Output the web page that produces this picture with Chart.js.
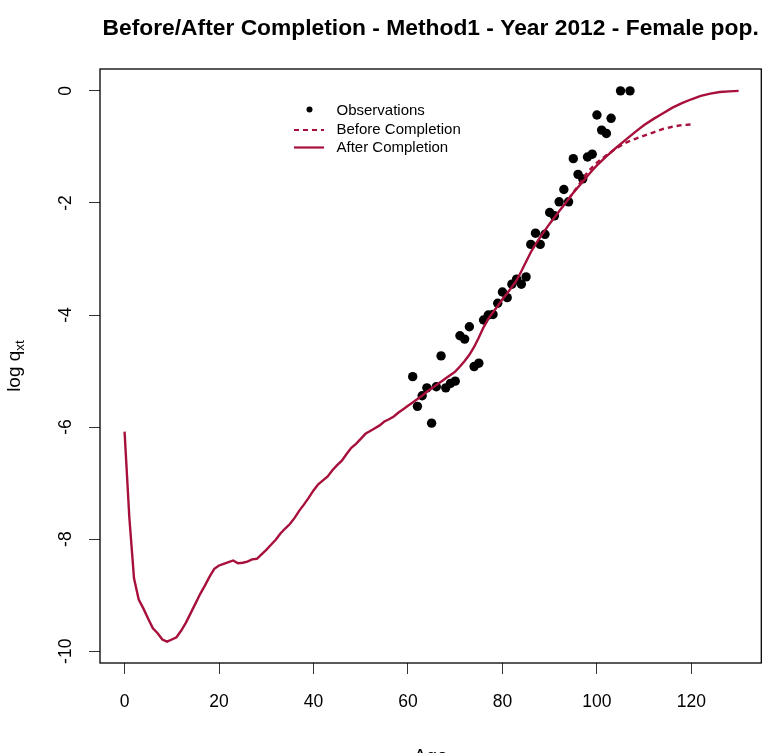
<!DOCTYPE html>
<html>
<head>
<meta charset="utf-8">
<script src="https://cdn.jsdelivr.net/npm/chart.js@4.4.1/dist/chart.umd.min.js"></script>
<style>html,body{margin:0;padding:0;background:#fff}canvas{display:block}</style>
</head>
<body>
<canvas id="myChart" width="766" height="753"></canvas>
<script>
// observed log death rates (female, 2012)
var obsAge = [61,62,63,64,65,66,67,68,69,70,71,72,73,74,75,76,77,78,79,80,81,82,83,84,85,86,87,88,89,90,91,92,93,94,95,96,97,98,99,100,101,102,103,105,107];
var obsVal = [-5.10,-5.63,-5.44,-5.30,-5.93,-5.28,-4.73,-5.30,-5.22,-5.18,-4.37,-4.43,-4.21,-4.92,-4.86,-4.09,-4.00,-3.99,-3.79,-3.59,-3.69,-3.45,-3.36,-3.45,-3.32,-2.74,-2.54,-2.74,-2.56,-2.17,-2.23,-1.98,-1.76,-1.98,-1.21,-1.49,-1.57,-1.18,-1.13,-0.43,-0.70,-0.76,-0.49,0,0];

// fitted curve after completion
var afterAge = [0,1,2,3,4,5,6,7,8,9,10,11,12,13,14,15,16,17,18,19,20,21,22,23,24,25,26,27,28,29,30,31,32,33,34,35,36,37,38,39,40,41,42,43,44,45,46,47,48,49,50,51,52,53,54,55,56,57,58,59,60,61,62,63,64,65,66,67,68,69,70,71,72,73,74,75,76,77,78,79,80,81,82,83,84,85,86,87,88,89,90,91,92,93,94,95,96,97,98,99,100,102,104,106,108,110,112,114,116,118,120,122,124,126,128,130];
var afterVal = [-6.08,-7.60,-8.70,-9.08,-9.24,-9.42,-9.59,-9.68,-9.79,-9.83,-9.79,-9.75,-9.63,-9.49,-9.32,-9.15,-8.98,-8.83,-8.67,-8.53,-8.47,-8.44,-8.41,-8.38,-8.43,-8.42,-8.40,-8.36,-8.35,-8.27,-8.19,-8.10,-8.01,-7.90,-7.81,-7.73,-7.62,-7.49,-7.38,-7.26,-7.13,-7.02,-6.95,-6.88,-6.77,-6.68,-6.60,-6.48,-6.37,-6.30,-6.21,-6.12,-6.07,-6.02,-5.97,-5.90,-5.86,-5.81,-5.74,-5.68,-5.62,-5.56,-5.50,-5.44,-5.37,-5.31,-5.25,-5.19,-5.13,-5.07,-5.01,-4.92,-4.82,-4.71,-4.57,-4.40,-4.22,-4.07,-3.95,-3.84,-3.72,-3.61,-3.50,-3.38,-3.22,-3.05,-2.88,-2.74,-2.61,-2.49,-2.37,-2.26,-2.15,-2.04,-1.93,-1.82,-1.72,-1.62,-1.52,-1.42,-1.33,-1.17,-1.02,-0.88,-0.74,-0.61,-0.50,-0.40,-0.30,-0.22,-0.15,-0.09,-0.05,-0.02,-0.01,0];

// curve before completion (only where it differs)
var beforeAge = [94,96,98,100,102,104,106,108,110,112,114,116,118,120];
var beforeVal = [-1.93,-1.70,-1.45,-1.28,-1.15,-1.03,-0.93,-0.86,-0.80,-0.74,-0.68,-0.64,-0.61,-0.60];

var xTicks = [0,20,40,60,80,100,120];
var yTicks = [-10,-8,-6,-4,-2,0];

var red = "#a8103c";
var font = "Liberation Sans, Arial, sans-serif";

function pts(xs, ys){
  var out = [];
  for (var i = 0; i < xs.length; i++) out.push({x: xs[i], y: ys[i]});
  return out;
}
function setTicks(list){
  return function(s){ s.ticks = list.map(function(v){ return {value: v}; }); };
}

var extras = {
  id: "extras",
  afterDraw: function(chart){
    var c = chart.ctx, a = chart.chartArea;
    c.save();
    // box
    c.strokeStyle = "#000";
    c.lineWidth = 1.3;
    c.strokeRect(a.left, a.top, a.right - a.left, a.bottom - a.top);
    c.fillStyle = "#000";
    // main title
    c.font = "bold 22.8px " + font;
    c.textAlign = "center";
    c.textBaseline = "alphabetic";
    c.fillText("Before/After Completion - Method1 - Year 2012 - Female pop.", (a.left + a.right) / 2, 34.5);
    // x title
    c.font = "19px " + font;
    c.fillText("Age", (a.left + a.right) / 2, 761.5);
    // y title with subscript
    var yc = (a.top + a.bottom) / 2;
    c.translate(20, yc);
    c.rotate(-Math.PI / 2);
    c.font = "19px " + font;
    var w1 = c.measureText("log q").width;
    c.font = "13.5px " + font;
    var w2 = c.measureText("xt").width;
    var x0 = -(w1 + w2) / 2;
    c.textAlign = "left";
    c.font = "19px " + font;
    c.fillText("log q", x0, 0);
    c.font = "13.5px " + font;
    c.fillText("xt", x0 + w1, 4);
    c.restore();

    // legend
    c.save();
    c.fillStyle = "#000";
    c.beginPath();
    c.arc(309.5, 109.5, 3, 0, Math.PI * 2);
    c.fill();
    c.strokeStyle = red;
    c.lineWidth = 2.2;
    c.setLineDash([5, 4]);
    c.beginPath(); c.moveTo(294, 130); c.lineTo(324, 130); c.stroke();
    c.setLineDash([]);
    c.beginPath(); c.moveTo(294, 147.5); c.lineTo(324, 147.5); c.stroke();
    c.font = "15px " + font;
    c.textAlign = "left";
    c.textBaseline = "middle";
    c.fillText("Observations", 336.5, 110.5);
    c.fillText("Before Completion", 336.5, 129.5);
    c.fillText("After Completion", 336.5, 147.5);
    c.restore();
  }
};

var ctx = document.getElementById("myChart").getContext("2d");
var myChart = new Chart(ctx, {
  type: "scatter",
  data: {
    datasets: [
      {
        label: "After Completion",
        data: pts(afterAge, afterVal),
        showLine: true,
        borderColor: red,
        borderWidth: 2.4,
        pointRadius: 0,
        fill: false,
        order: 0
      },
      {
        label: "Before Completion",
        data: pts(beforeAge, beforeVal),
        showLine: true,
        borderColor: red,
        borderWidth: 2.4,
        borderDash: [5, 4],
        pointRadius: 0,
        fill: false,
        order: 1
      },
      {
        label: "Observations",
        data: pts(obsAge, obsVal),
        showLine: false,
        pointRadius: 4.7,
        pointBackgroundColor: "#000",
        pointBorderWidth: 0,
        order: 2
      }
    ]
  },
  options: {
    responsive: false,
    animation: false,
    layout: { padding: { top: 69, right: 1, left: 0, bottom: 0 } },
    plugins: { legend: { display: false }, title: { display: false }, tooltip: { enabled: false } },
    scales: {
      x: {
        type: "linear",
        min: -5.2,
        max: 134.8,
        afterBuildTicks: setTicks(xTicks),
        afterFit: function(s){ s.height = 90; },
        border: { display: false },
        grid: { drawOnChartArea: false, tickLength: 11, color: "#333", lineWidth: 1 },
        ticks: { color: "#000", padding: 18, maxRotation: 0,
                 font: { family: font, size: 17.5 } }
      },
      y: {
        type: "linear",
        min: -10.21,
        max: 0.39,
        afterBuildTicks: setTicks(yTicks),
        afterFit: function(s){ s.width = 100; },
        border: { display: false },
        grid: { drawOnChartArea: false, tickLength: 11, color: "#333", lineWidth: 1 },
        ticks: { color: "#000", padding: 10.5,
                 minRotation: 90, maxRotation: 90, crossAlign: "center",
                 font: { family: font, size: 17.5 } }
      }
    }
  },
  plugins: [extras]
});
</script>
</body>
</html>
